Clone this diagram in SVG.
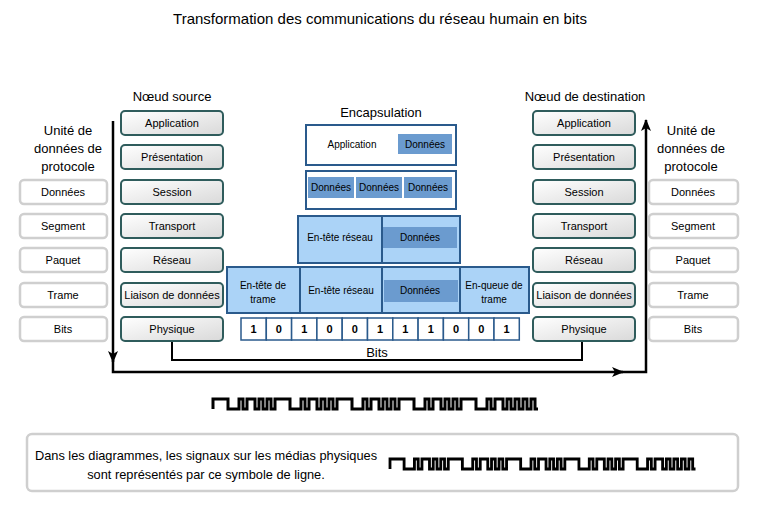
<svg xmlns="http://www.w3.org/2000/svg" width="767" height="511" viewBox="0 0 767 511">
<style>
text{font-family:"Liberation Sans",Arial,sans-serif;fill:#000;text-anchor:middle}
.t{font-size:11px}
.e{font-size:10px}
.h{font-size:13px}
.layer{fill:url(#lg);stroke:#2f5c5c;stroke-width:2}
.pdu{fill:#fff;stroke:#cfcfcf;stroke-width:2.5}
.enc{stroke:#2a5a8c;stroke-width:2}
.lb{fill:#abd3f7}
.dk{fill:#6b9bcf}
.bit{fill:#fff;stroke:#2a5a8c;stroke-width:1.5}
.bt{font-size:11px;font-weight:bold}
.wire{fill:none;stroke:#000;stroke-width:2.5}
.wave{fill:none;stroke:#000;stroke-width:3}
</style>
<defs>
<linearGradient id="lg" x1="0" y1="0" x2="1" y2="1">
<stop offset="0" stop-color="#ffffff"/>
<stop offset="1" stop-color="#d9d9d9"/>
</linearGradient>
<marker id="ah" viewBox="0 0 12 10" refX="11" refY="5" markerWidth="12" markerHeight="10" markerUnits="userSpaceOnUse" orient="auto">
<path d="M0,0 L12,5 L0,10 L3,5 z" fill="#000"/>
</marker>
<path id="wv" d="M0,10 V0 h15 V10 h11 V0 h4 V10 h4 V0 h8 V10 h4 V0 h4 V10 h4 V0 h4 V10 h4 V0 h15 V10 h11 V0 h4 V10 h4 V0 h8 V10 h4 V0 h4 V10 h4 V0 h4 V10 h4 V0 h15 V10 h11 V0 h4 V10 h4 V0 h8 V10 h4 V0 h4 V10 h4 V0 h4 V10 h4 V0 h15 V10 h11 V0 h4 V10 h4 V0 h8 V10 h4 V0 h4 V10 h4 V0 h4 V10 h4 V0 h15 V10 h11 V0 h4 V10 h4 V0 h8 V10 h4 V0 h4 V10 h4 V0 h4 V10 h4 V0 h4 V10 h4 V0 h4 V10 h3"/>
</defs>
<rect width="767" height="511" fill="#fff"/>
<text x="380" y="24" style="font-size:15px">Transformation des communications du réseau humain en bits</text>

<g id="labels">
<text class="h" x="172" y="101">Nœud source</text>
<text class="h" x="585" y="101">Nœud de destination</text>
<text class="h" x="381" y="117">Encapsulation</text>
<text class="h" x="68" y="135">Unité de</text>
<text class="h" x="68" y="153">données de</text>
<text class="h" x="68" y="171">protocole</text>
<text class="h" x="691" y="135">Unité de</text>
<text class="h" x="691" y="153">données de</text>
<text class="h" x="691" y="171">protocole</text>
</g>

<g id="connectors">
<path class="wire" d="M113,121 V362" marker-end="url(#ah)"/>
<path class="wire" d="M113,360 V372 H623" marker-end="url(#ah)"/>
<path class="wire" d="M620,372 H646 V120" marker-end="url(#ah)"/>
<path class="wire" d="M172,341 V360 H582 V341" style="stroke-width:2"/>
<text x="377" y="357" style="font-size:13px">Bits</text>
</g>

<g id="src-application"><rect class="layer" x="121" y="111" width="102" height="24" rx="4"/><text class="t" x="172" y="127">Application</text></g>
<g id="src-presentation"><rect class="layer" x="121" y="145" width="102" height="24" rx="4"/><text class="t" x="172" y="161">Présentation</text></g>
<g id="src-session"><rect class="layer" x="121" y="180" width="102" height="24" rx="4"/><text class="t" x="172" y="196">Session</text></g>
<g id="src-transport"><rect class="layer" x="121" y="214" width="102" height="24" rx="4"/><text class="t" x="172" y="230">Transport</text></g>
<g id="src-reseau"><rect class="layer" x="121" y="248" width="102" height="24" rx="4"/><text class="t" x="172" y="264">Réseau</text></g>
<g id="src-liaison"><rect class="layer" x="121" y="283" width="102" height="24" rx="4"/><text class="t" x="172" y="299">Liaison de données</text></g>
<g id="src-physique"><rect class="layer" x="121" y="317" width="102" height="24" rx="4"/><text class="t" x="172" y="333">Physique</text></g>

<g id="dst-application"><rect class="layer" x="533" y="111" width="102" height="24" rx="4"/><text class="t" x="584" y="127">Application</text></g>
<g id="dst-presentation"><rect class="layer" x="533" y="145" width="102" height="24" rx="4"/><text class="t" x="584" y="161">Présentation</text></g>
<g id="dst-session"><rect class="layer" x="533" y="180" width="102" height="24" rx="4"/><text class="t" x="584" y="196">Session</text></g>
<g id="dst-transport"><rect class="layer" x="533" y="214" width="102" height="24" rx="4"/><text class="t" x="584" y="230">Transport</text></g>
<g id="dst-reseau"><rect class="layer" x="533" y="248" width="102" height="24" rx="4"/><text class="t" x="584" y="264">Réseau</text></g>
<g id="dst-liaison"><rect class="layer" x="533" y="283" width="102" height="24" rx="4"/><text class="t" x="584" y="299">Liaison de données</text></g>
<g id="dst-physique"><rect class="layer" x="533" y="317" width="102" height="24" rx="4"/><text class="t" x="584" y="333">Physique</text></g>

<g id="pdu-left-donnees"><rect class="pdu" x="20" y="180" width="87" height="24" rx="4"/><text class="t" x="63" y="196">Données</text></g>
<g id="pdu-left-segment"><rect class="pdu" x="20" y="214" width="87" height="24" rx="4"/><text class="t" x="63" y="230">Segment</text></g>
<g id="pdu-left-paquet"><rect class="pdu" x="20" y="248" width="87" height="24" rx="4"/><text class="t" x="63" y="264">Paquet</text></g>
<g id="pdu-left-trame"><rect class="pdu" x="20" y="283" width="87" height="24" rx="4"/><text class="t" x="63" y="299">Trame</text></g>
<g id="pdu-left-bits"><rect class="pdu" x="20" y="317" width="87" height="24" rx="4"/><text class="t" x="63" y="333">Bits</text></g>

<g id="pdu-right-donnees"><rect class="pdu" x="649" y="180" width="89" height="24" rx="4"/><text class="t" x="693" y="196">Données</text></g>
<g id="pdu-right-segment"><rect class="pdu" x="649" y="214" width="89" height="24" rx="4"/><text class="t" x="693" y="230">Segment</text></g>
<g id="pdu-right-paquet"><rect class="pdu" x="649" y="248" width="89" height="24" rx="4"/><text class="t" x="693" y="264">Paquet</text></g>
<g id="pdu-right-trame"><rect class="pdu" x="649" y="283" width="89" height="24" rx="4"/><text class="t" x="693" y="299">Trame</text></g>
<g id="pdu-right-bits"><rect class="pdu" x="649" y="317" width="89" height="24" rx="4"/><text class="t" x="693" y="333">Bits</text></g>

<g id="enc-application">
<rect class="enc" x="306" y="125" width="150" height="40" fill="#fff"/>
<text class="e" x="352" y="148">Application</text>
<rect class="dk" x="398" y="134" width="54" height="20"/>
<text class="e" x="425" y="148">Données</text>
</g>
<g id="enc-segment">
<rect class="enc" x="306" y="171" width="150" height="38" fill="#fff"/>
<rect class="dk" x="308" y="177" width="46" height="21"/>
<rect class="dk" x="356" y="177" width="46" height="21"/>
<rect class="dk" x="404" y="177" width="48" height="21"/>
<text class="e" x="331" y="191">Données</text>
<text class="e" x="379" y="191">Données</text>
<text class="e" x="428" y="191">Données</text>
</g>
<g id="enc-paquet">
<rect class="enc lb" x="298" y="216" width="162" height="47"/>
<line class="enc" x1="382" y1="216" x2="382" y2="263"/>
<rect class="dk" x="383" y="227" width="74" height="21"/>
<text class="e" x="340" y="241">En-tête réseau</text>
<text class="e" x="420" y="241">Données</text>
</g>
<g id="enc-trame">
<rect class="enc lb" x="227" y="267" width="302" height="46"/>
<line class="enc" x1="300" y1="267" x2="300" y2="313"/>
<line class="enc" x1="382" y1="267" x2="382" y2="313"/>
<line class="enc" x1="460" y1="267" x2="460" y2="313"/>
<rect class="dk" x="384" y="280" width="74" height="22"/>
<text class="e" x="263" y="289">En-tête de</text>
<text class="e" x="263" y="303">trame</text>
<text class="e" x="341" y="294">En-tête réseau</text>
<text class="e" x="420" y="294">Données</text>
<text class="e" x="494" y="289">En-queue de</text>
<text class="e" x="494" y="303">trame</text>
</g>
<g id="enc-bits">
<rect class="bit" x="241" y="318" width="25.3" height="22"/>
<rect class="bit" x="266.3" y="318" width="25.3" height="22"/>
<rect class="bit" x="291.6" y="318" width="25.3" height="22"/>
<rect class="bit" x="316.9" y="318" width="25.3" height="22"/>
<rect class="bit" x="342.2" y="318" width="25.3" height="22"/>
<rect class="bit" x="367.5" y="318" width="25.3" height="22"/>
<rect class="bit" x="392.8" y="318" width="25.3" height="22"/>
<rect class="bit" x="418.1" y="318" width="25.3" height="22"/>
<rect class="bit" x="443.4" y="318" width="25.3" height="22"/>
<rect class="bit" x="468.7" y="318" width="25.3" height="22"/>
<rect class="bit" x="494" y="318" width="25.3" height="22"/>
<text class="bt" x="253.6" y="333">1</text>
<text class="bt" x="278.9" y="333">0</text>
<text class="bt" x="304.2" y="333">1</text>
<text class="bt" x="329.5" y="333">0</text>
<text class="bt" x="354.8" y="333">0</text>
<text class="bt" x="380.1" y="333">1</text>
<text class="bt" x="405.4" y="333">1</text>
<text class="bt" x="430.7" y="333">1</text>
<text class="bt" x="456" y="333">0</text>
<text class="bt" x="481.3" y="333">0</text>
<text class="bt" x="506.6" y="333">1</text>
</g>

<g id="signal">
<use href="#wv" class="wave" transform="translate(213,399)"/>
</g>

<g id="legend">
<rect x="27" y="434" width="711" height="57" rx="5" fill="#fff" stroke="#cfcfcf" stroke-width="2.5"/>
<text x="206" y="460" style="font-size:12.8px">Dans les diagrammes, les signaux sur les médias physiques</text>
<text x="206" y="479" style="font-size:12.8px">sont représentés par ce symbole de ligne.</text>
<use href="#wv" class="wave" transform="translate(390,459) scale(0.94,1)"/>
</g>
</svg>
